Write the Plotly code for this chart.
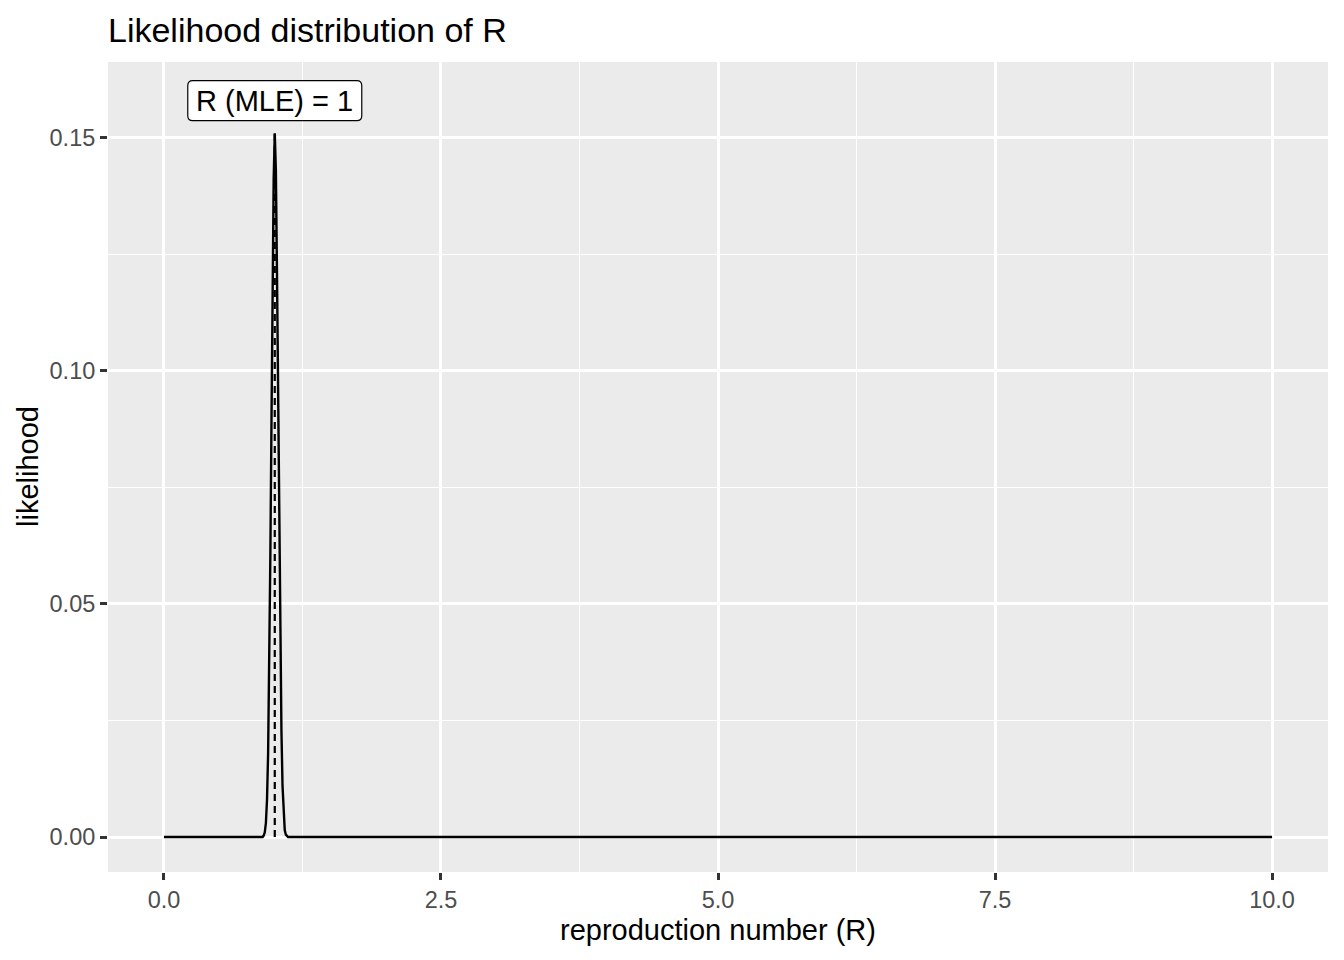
import plotly.graph_objects as go

# ---- data ----
R_values = [0.00, 0.89, 0.90, 0.91, 0.92, 0.93, 0.94, 0.95, 0.96, 0.97, 0.98, 0.99,
            1.00, 1.01, 1.02, 1.03, 1.04, 1.05, 1.06, 1.07, 1.08, 1.09, 1.10, 1.11, 1.12, 10.00]
likelihood = [0.0, 0.0, 0.0003, 0.001, 0.003, 0.008, 0.018, 0.036, 0.060, 0.088, 0.117, 0.141,
              0.151, 0.143, 0.121, 0.095, 0.067, 0.042, 0.023, 0.011, 0.004, 0.0015, 0.0005, 0.0001, 0.0, 0.0]
mle_R = 1.0
mle_lik = 0.151
label_y = 0.158
label_text = "R (MLE) = 1"
x_ticks = [0, 2.5, 5, 7.5, 10]
x_ticklabels = ["0.0", "2.5", "5.0", "7.5", "10.0"]
y_ticks = [0, 0.05, 0.10, 0.15]
y_ticklabels = ["0.00", "0.05", "0.10", "0.15"]

FONT = "Liberation Sans, Arial, sans-serif"

fig = go.Figure()
fig.add_trace(go.Scatter(x=R_values, y=likelihood, mode="lines",
                         line=dict(color="black", width=2.4), hoverinfo="skip",
                         showlegend=False))
fig.add_trace(go.Scatter(x=[mle_R, mle_R], y=[0, mle_lik], mode="lines",
                         line=dict(color="black", width=2.2, dash="7px,5px"),
                         hoverinfo="skip", showlegend=False))

# rounded label box (pixel-sized, anchored at data point)
w, h, r = 87, 20, 5
path = (f"M {-w+r},{-h} L {w-r},{-h} Q {w},{-h} {w},{-h+r} L {w},{h-r} Q {w},{h} {w-r},{h} "
        f"L {-w+r},{h} Q {-w},{h} {-w},{h-r} L {-w},{-h+r} Q {-w},{-h} {-w+r},{-h} Z")
fig.add_shape(type="path", xref="x", yref="y", xsizemode="pixel", ysizemode="pixel",
              xanchor=mle_R, yanchor=label_y, path=path,
              fillcolor="white", line=dict(color="black", width=1.2), layer="above")
fig.add_annotation(x=mle_R, y=label_y, xref="x", yref="y", text=label_text, showarrow=False,
                   font=dict(family=FONT, size=29, color="black"), xanchor="center", yanchor="middle")

# axis titles
fig.add_annotation(x=(718 - 108) / 1220, y=-(930 - 872) / 810, xref="paper", yref="paper",
                   text="reproduction number (R)", showarrow=False,
                   font=dict(family=FONT, size=29, color="black"),
                   xanchor="center", yanchor="middle")
fig.add_annotation(x=-(108 - 28) / 1220, y=(872 - 467) / 810, xref="paper", yref="paper",
                   text="likelihood", showarrow=False, textangle=-90,
                   font=dict(family=FONT, size=29, color="black"),
                   xanchor="center", yanchor="middle")

fig.update_layout(
    width=1344, height=960,
    margin=dict(l=108, r=16, t=62, b=88),
    paper_bgcolor="white", plot_bgcolor="#EBEBEB",
    title=dict(text="Likelihood distribution of R", x=108 / 1344, xref="container", xanchor="left",
               y=1 - 30 / 960, yref="container", yanchor="middle",
               font=dict(family=FONT, size=34, color="black")),
    xaxis=dict(range=[-0.505, 10.505], tickvals=x_ticks, ticktext=x_ticklabels,
               showgrid=True, gridcolor="white", gridwidth=2.8, zeroline=False,
               ticks="outside", ticklen=7, tickwidth=2.8, tickcolor="#333333",
               tickfont=dict(family=FONT, size=23.5, color="#4D4D4D"),
               minor=dict(tickvals=[1.25, 3.75, 6.25, 8.75], showgrid=True,
                          gridcolor="white", gridwidth=1.4, ticks=""),
               showline=False, fixedrange=True),
    yaxis=dict(range=[-0.00751, 0.1663], tickvals=y_ticks, ticktext=y_ticklabels,
               showgrid=True, gridcolor="white", gridwidth=2.8, zeroline=False,
               ticks="outside", ticklen=7, tickwidth=2.8, tickcolor="#333333",
               tickfont=dict(family=FONT, size=23.5, color="#4D4D4D"),
               minor=dict(tickvals=[0.025, 0.075, 0.125], showgrid=True,
                          gridcolor="white", gridwidth=1.4, ticks=""),
               showline=False, fixedrange=True),
)

fig.write_html("out.html", config={"displayModeBar": False},
               post_script="document.body.style.margin='0';document.body.style.overflow='hidden';")
